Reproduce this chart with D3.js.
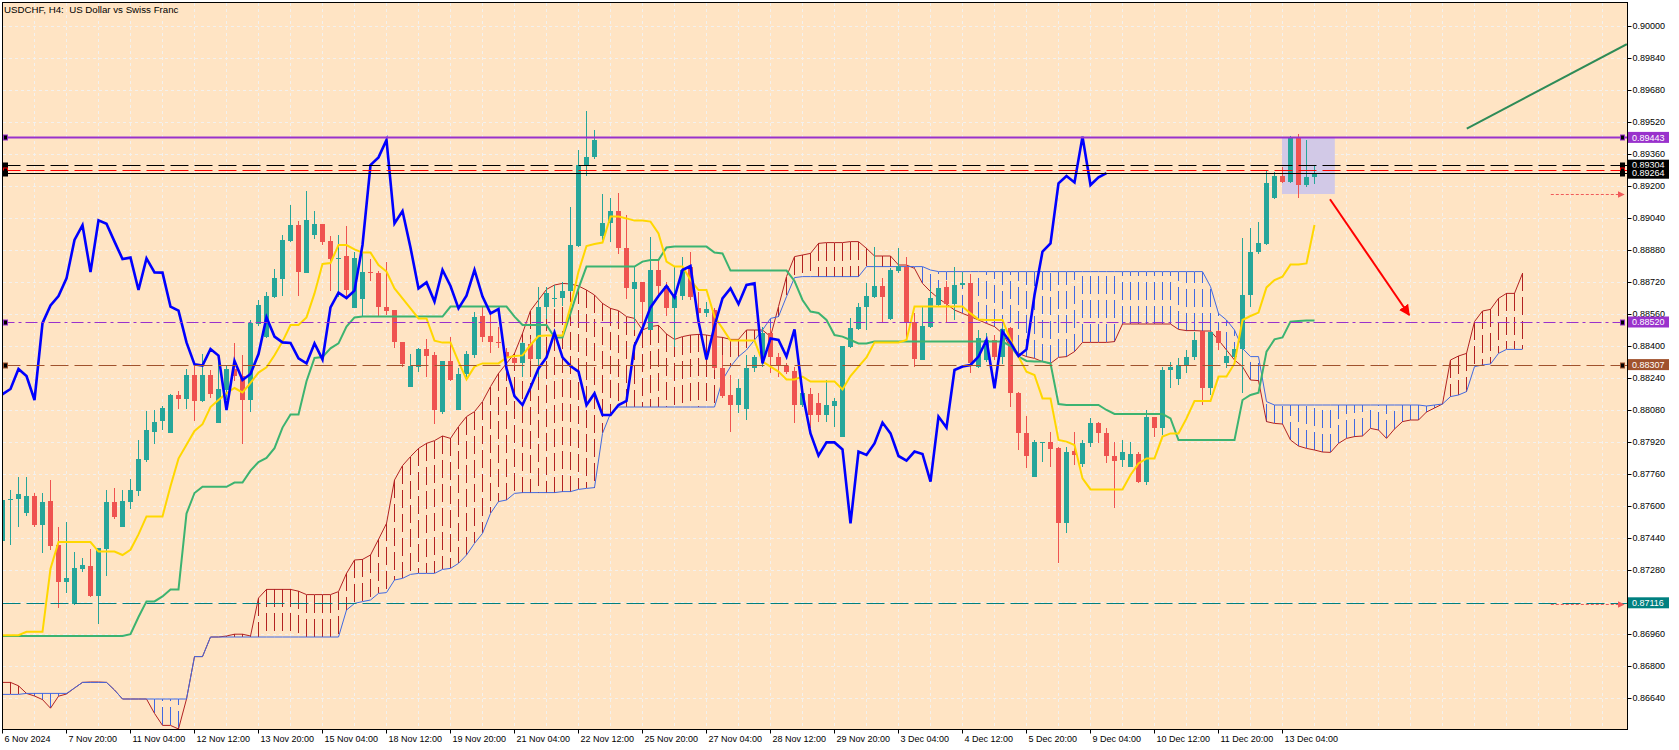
<!DOCTYPE html>
<html>
<head>
<meta charset="utf-8">
<script src="https://cdn.jsdelivr.net/npm/d3@7"></script>
<style>
html, body { margin: 0; padding: 0; background: #fff; overflow: hidden; }
svg { display: block; }
</style>
</head>
<body>
<svg id="chart" width="1679" height="750"></svg>
<script>
// USDCHF H4 - bars start 6 Nov 2024 12:00, one bar = 4 hours
const ohlc = [ // [open, high, low, close]
  [.87424,.87640,.87410,.87630],[.87630,.87682,.87407,.87636],[.87634,.87746,.87493,.87660],[.87567,.87746,.87550,.87651],
  [.87651,.87665,.87496,.87506],[.87506,.87665,.87364,.87622],[.87625,.87729,.87381,.87401],[.87407,.87493,.87091,.87222],
  [.87222,.87519,.87166,.87238],[.87109,.87372,.87105,.87290],[.87286,.87341,.87269,.87307],[.87300,.87384,.87143,.87148],
  [.87152,.87392,.87011,.87389],[.87386,.87682,.87252,.87618],[.87618,.87691,.87536,.87544],[.87496,.87682,.87496,.87625],
  [.87622,.87734,.87587,.87679],[.87677,.87932,.87648,.87834],[.87832,.88073,.87820,.87978],[.87971,.88078,.87911,.88018],
  [.88023,.88100,.87980,.88092],[.87966,.88160,.87966,.88154],[.88154,.88173,.88083,.88133],[.88137,.88285,.88087,.88255],
  [.88255,.88302,.88026,.88126],[.88126,.88362,.88118,.88255],[.88255,.88280,.88138,.88159],[.88013,.88324,.88013,.88185],
  [.88181,.88302,.88130,.88285],[.88285,.88416,.88224,.88250],[.88250,.88354,.87911,.88130],[.88130,.88531,.88069,.88514],
  [.88509,.88632,.88500,.88603],[.88445,.88672,.88440,.88650],[.88646,.88784,.88638,.88738],[.88736,.88956,.88651,.88930],
  [.88927,.89103,.88922,.89004],[.89004,.89025,.88651,.88770],[.88767,.89175,.88767,.89028],[.88953,.89073,.88934,.89011],
  [.89008,.89008,.88905,.88922],[.88925,.88948,.88676,.88835],[.88835,.88955,.88647,.88842],[.88852,.89002,.88640,.88680],
  [.88588,.88870,.88588,.88838],[.88635,.88867,.88547,.88768],[.88768,.88835,.88725,.88767],[.88767,.88775,.88547,.88597],
  [.88593,.88818,.88555,.88577],[.88580,.88580,.88388,.88418],[.88418,.88418,.88297,.88308],[.88197,.88358,.88197,.88302],
  [.88297,.88388,.88272,.88385],[.88385,.88433,.88243,.88352],[.88355,.88372,.88008,.88080],[.88072,.88325,.88058,.88325],
  [.88325,.88447,.88225,.88230],[.88080,.88292,.88080,.88260],[.88260,.88375,.88247,.88360],[.88355,.88568,.88342,.88543],
  [.88550,.88597,.88422,.88447],[.88450,.88572,.88363,.88418],[.88420,.88497,.88388,.88415],[.88368,.88392,.88297,.88338],
  [.88338,.88345,.88300,.88313],[.88313,.88422,.88247,.88413],[.88410,.88435,.88327,.88333],[.88333,.88697,.88247,.88593],
  [.88593,.88693,.88533,.88667],[.88635,.88705,.88597,.88640],[.88642,.88722,.88600,.88677],[.88677,.89097,.88672,.88905],
  [.88902,.89380,.88897,.89305],[.89305,.89575,.89252,.89343],[.89343,.89480,.89333,.89430],[.88952,.89158,.88930,.89013],
  [.89013,.89138,.88922,.89075],[.89075,.89167,.88860,.88892],[.88892,.89055,.88635,.88688],[.88685,.88797,.88480,.88718],
  [.88722,.88722,.88480,.88622],[.88480,.88947,.88480,.88780],[.88780,.88830,.88640,.88700],[.88700,.88720,.88550,.88588],
  [.88592,.88800,.88397,.88652],[.88652,.88847,.88630,.88780],[.88797,.88868,.88630,.88647],[.88588,.88672,.88530,.88563],
  [.88567,.88622,.88547,.88585],[.88580,.88588,.88280,.88288],[.88288,.88355,.88140,.88150],[.88153,.88255,.87972,.88105],
  [.88105,.88233,.88063,.88192],[.88083,.88355,.88030,.88288],[.88288,.88355,.88268,.88343],[.88343,.88497,.88297,.88467],
  [.88467,.88488,.88263,.88343],[.88347,.88363,.88247,.88300],[.88300,.88313,.88260,.88272],[.88275,.88297,.88013,.88105],
  [.88105,.88200,.88095,.88163],[.88160,.88188,.87988,.88055],[.88113,.88163,.88022,.88055],[.88055,.88230,.88022,.88105],
  [.88102,.88138,.87997,.88125],[.87947,.88402,.87943,.88402],[.88397,.88538,.88388,.88488],[.88485,.88617,.88480,.88593],
  [.88593,.88713,.88480,.88650],[.88647,.88897,.88640,.88700],[.88700,.88738,.88517,.88643],[.88533,.88790,.88530,.88780],
  [.88777,.88888,.88763,.88800],[.88797,.88847,.88427,.88522],[.88522,.88563,.88297,.88333],[.88330,.88593,.88330,.88500],
  [.88497,.88688,.88490,.88638],[.88605,.88697,.88595,.88688],[.88693,.88727,.88513,.88610],[.88610,.88797,.88530,.88705],
  [.88705,.88772,.88697,.88713],[.88713,.88760,.88263,.88313],[.88297,.88480,.88288,.88438],[.88330,.88463,.88320,.88430],
  [.88430,.88455,.88330,.88347],[.88347,.88500,.88310,.88483],[.88488,.88497,.88097,.88163],[.88163,.88172,.87880,.87963],
  [.87963,.88050,.87788,.87852],[.87747,.87930,.87745,.87918],[.87915,.87920,.87818,.87918],[.87918,.87968,.87797,.87883],
  [.87888,.87897,.87313,.87513],[.87513,.87897,.87467,.87872],[.87875,.87968,.87805,.87855],[.87808,.87930,.87797,.87913],
  [.87913,.88038,.87897,.88017],[.88017,.88022,.87913,.87963],[.87967,.87988,.87813,.87850],[.87850,.87922,.87588,.87827],
  [.87830,.87930,.87797,.87872],[.87797,.87918,.87797,.87860],[.87860,.87872,.87713,.87722],[.87722,.88080,.87705,.88047],
  [.88047,.88047,.87947,.87992],[.87988,.88297,.87955,.88280],[.88280,.88322,.88188,.88297],[.88233,.88338,.88205,.88305],
  [.88305,.88380,.88267,.88347],[.88347,.88472,.88330,.88430],[.88475,.88475,.88105,.88188],[.88188,.88472,.88155,.88472],
  [.88475,.88480,.88380,.88417],[.88313,.88380,.88288,.88350],[.88347,.88397,.88322,.88383],[.88383,.88938,.88163,.88655],
  [.88655,.88988,.88597,.88872],[.88868,.89022,.88860,.88913],[.88910,.89275,.88905,.89213],[.89138,.89272,.89133,.89250],
  [.89250,.89297,.89213,.89218],[.89218,.89450,.89213,.89447],[.89447,.89458,.89142,.89205],[.89205,.89430,.89197,.89243],
  [.89243,.89305,.89210,.89264]
];

const tenkan = [
  .86954,.86954,.86954,.86971,.86971,.86971,.87286,.87420,.87420,.87420,
  .87420,.87420,.87372,.87372,.87372,.87355,.87381,.87458,.87548,.87548,
  .87548,.87699,.87837,.87906,.87975,.88009,.88095,.88130,.88164,.88190,
  .88168,.88216,.88267,.88293,.88354,.88422,.88505,.88505,.88543,.88663,
  .88810,.88815,.88905,.88905,.88883,.88867,.88867,.88805,.88772,.88688,
  .88638,.88588,.88538,.88538,.88427,.88417,.88417,.88322,.88233,.88297,
  .88313,.88313,.88313,.88342,.88350,.88353,.88405,.88450,.88453,.88453,
  .88453,.88597,.88772,.88900,.88910,.88917,.89047,.89047,.89038,.89027,
  .89027,.89022,.88963,.88822,.88797,.88797,.88730,.88680,.88680,.88547,
  .88488,.88427,.88427,.88427,.88427,.88322,.88297,.88272,.88233,.88233,
  .88247,.88222,.88222,.88222,.88222,.88183,.88250,.88297,.88343,.88418,
  .88418,.88418,.88418,.88430,.88597,.88597,.88597,.88597,.88597,.88597,
  .88597,.88563,.88533,.88530,.88530,.88530,.88430,.88347,.88272,.88255,
  .88138,.88138,.87930,.87922,.87905,.87738,.87683,.87683,.87683,.87683,
  .87683,.87755,.87813,.87838,.87838,.87947,.87963,.87963,.88038,.88125,
  .88125,.88125,.88247,.88247,.88313,.88530,.88550,.88567,.88693,.88730,
  .88747,.88808,.88808,.88813,.89005
];

const kijun = [
  .86950,.86950,.86950,.86950,.86950,.86950,.86950,.86950,.86950,.86950,
  .86950,.86950,.86950,.86950,.86950,.86950,.86959,.87045,.87123,.87123,
  .87148,.87183,.87183,.87562,.87665,.87696,.87696,.87696,.87696,.87717,
  .87717,.87777,.87820,.87840,.87889,.87992,.88057,.88057,.88224,.88340,
  .88345,.88388,.88413,.88497,.88543,.88547,.88547,.88547,.88547,.88547,
  .88547,.88547,.88547,.88547,.88547,.88547,.88597,.88597,.88597,.88597,
  .88597,.88597,.88597,.88597,.88547,.88505,.88505,.88505,.88505,.88443,
  .88443,.88563,.88688,.88797,.88797,.88797,.88797,.88797,.88797,.88797,
  .88822,.88830,.88830,.88893,.88897,.88897,.88897,.88897,.88897,.88867,
  .88863,.88777,.88777,.88777,.88777,.88777,.88777,.88777,.88777,.88725,
  .88630,.88572,.88565,.88530,.88455,.88447,.88430,.88413,.88413,.88422,
  .88422,.88422,.88422,.88422,.88422,.88422,.88422,.88422,.88422,.88422,
  .88422,.88422,.88422,.88422,.88422,.88422,.88400,.88347,.88325,.88322,
  .88322,.88313,.88110,.88105,.88105,.88105,.88105,.88105,.88080,.88060,
  .88060,.88060,.88060,.88060,.88060,.88060,.88038,.87930,.87930,.87930,
  .87930,.87930,.87930,.87930,.87930,.88130,.88155,.88167,.88372,.88433,
  .88443,.88522,.88525,.88527,.88527
];

const spanA = [
  .86718,.86718,.86701,.86663,.86650,.86632,.86589,.86649,.86660,.86690,
  .86718,.86720,.86720,.86718,.86680,.86635,.86635,.86635,.86635,.86563,
  .86503,.86503,.86485,.86635,.86847,.86847,.86945,.86945,.86950,.86959,
  .86959,.86950,.87140,.87183,.87183,.87183,.87183,.87174,.87157,.87157,
  .87157,.87157,.87172,.87263,.87330,.87333,.87355,.87433,.87513,.87730,
  .87802,.87847,.87888,.87913,.87927,.87950,.87938,.87997,.88047,.88072,
  .88122,.88197,.88263,.88313,.88363,.88463,.88577,.88630,.88683,.88705,
  .88713,.88710,.88700,.88680,.88655,.88613,.88588,.88577,.88547,.88538,
  .88480,.88497,.88503,.88460,.88433,.88447,.88455,.88458,.88455,.88447,
  .88443,.88433,.88433,.88480,.88480,.88480,.88447,.88597,.88747,.88847,
  .88855,.88863,.88913,.88917,.88917,.88917,.88922,.88922,.88888,.88850,
  .88850,.88850,.88805,.88805,.88788,.88713,.88672,.88638,.88610,.88580,
  .88563,.88547,.88530,.88513,.88497,.88463,.88393,.88363,.88347,.88338,
  .88322,.88313,.88343,.88347,.88372,.88418,.88418,.88418,.88418,.88422,
  .88510,.88510,.88510,.88510,.88510,.88510,.88510,.88483,.88477,.88477,
  .88475,.88475,.88430,.88380,.88330,.88297,.88230,.88227,.88022,.88013,
  .88010,.87930,.87900,.87888,.87880,.87870,.87868,.87913,.87938,.87947,
  .87950,.87988,.87980,.87938,.87985,.88022,.88030,.88030,.88070,.88090,
  .88110,.88330,.88350,.88363,.88522,.88575,.88583,.88638,.88663,.88663,
  .88763
];

const spanB = [
  .86658,.86658,.86658,.86663,.86663,.86663,.86663,.86663,.86663,.86690,
  .86718,.86718,.86718,.86718,.86680,.86635,.86635,.86635,.86635,.86635,
  .86635,.86635,.86635,.86635,.86847,.86847,.86945,.86945,.86945,.86945,
  .86945,.86945,.86945,.86945,.86945,.86945,.86945,.86945,.86945,.86945,
  .86945,.86945,.86945,.87080,.87113,.87122,.87130,.87163,.87167,.87230,
  .87238,.87258,.87263,.87263,.87263,.87283,.87288,.87313,.87355,.87413,
  .87463,.87563,.87622,.87630,.87663,.87667,.87667,.87667,.87667,.87667,
  .87672,.87672,.87683,.87688,.87692,.87963,.88063,.88095,.88095,.88095,
  .88095,.88095,.88095,.88095,.88095,.88095,.88095,.88095,.88095,.88095,
  .88230,.88297,.88347,.88380,.88430,.88480,.88538,.88547,.88647,.88742,
  .88747,.88747,.88747,.88747,.88747,.88747,.88747,.88747,.88797,.88797,
  .88797,.88797,.88797,.88797,.88797,.88797,.88780,.88772,.88772,.88772,
  .88772,.88772,.88772,.88772,.88772,.88772,.88772,.88772,.88772,.88772,
  .88772,.88772,.88772,.88772,.88772,.88772,.88772,.88772,.88772,.88772,
  .88772,.88772,.88772,.88772,.88772,.88772,.88772,.88772,.88772,.88772,
  .88772,.88697,.88563,.88530,.88480,.88388,.88347,.88347,.88122,.88105,
  .88105,.88105,.88105,.88105,.88105,.88105,.88105,.88105,.88105,.88105,
  .88105,.88105,.88105,.88105,.88105,.88105,.88105,.88105,.88100,.88105,
  .88110,.88147,.88155,.88172,.88297,.88305,.88310,.88363,.88383,.88383,
  .88383
];

const chikouShift = 26;

const priceTicks = [0.90000,0.89840,0.89680,0.89520,0.89360,0.89200,0.89040,0.88880,0.88720,0.88560,0.88400,
                    0.88240,0.88080,0.87920,0.87760,0.87600,0.87440,0.87280,0.87120,0.86960,0.86800,0.86640];

const timeTickBars = [0,8,16,24,32,40,48,56,64,72,80,88,96,104,112,120,128,136,144,152,160];
const timeTickLabels = ["6 Nov 2024","7 Nov 20:00","11 Nov 04:00","12 Nov 12:00","13 Nov 20:00","15 Nov 04:00",
  "18 Nov 12:00","19 Nov 20:00","21 Nov 04:00","22 Nov 12:00","25 Nov 20:00","27 Nov 04:00","28 Nov 12:00",
  "29 Nov 20:00","3 Dec 04:00","4 Dec 12:00","5 Dec 20:00","9 Dec 04:00","10 Dec 12:00","11 Dec 20:00","13 Dec 04:00"];

// drawn objects
const levelPrices = [0.89443, 0.89304, 0.89279, 0.89264, 0.88520, 0.88307, 0.87116];
const rectBars = [160, 166.6];
const rectPrices = [0.89443, 0.89160];
const arrowBars = [166, 175.9];
const arrowPrices = [0.89134, 0.88555];
const trendBars = [183.1, 203.1];
const trendPrices = [0.89487, 0.89909];
const markBars = [193.6, 202.75];
const markPrices = [0.89159, 0.87109];

const title = "USDCHF, H4:  US Dollar vs Swiss Franc";

// ---- layout ----
const W = 1679, H = 750;
const L = 2.5, T = 2.5, R = 1627.5, B = 729.5;
const font = "'Liberation Sans', Arial, sans-serif";
const bull = "#26A69A", bear = "#EF5350";
const cloudUp = "#B22222", cloudDn = "#4169E1";

const x = d3.scaleLinear().domain([0, 200]).range([2, 1602]);   // 8 px per bar
const y = d3.scaleLinear().domain([0.9, 0.8664]).range([26, 698]);
const px = i => x(i) + 0.5;
const crisp = v => Math.round(v) + 0.5;

const svg = d3.select("#chart");
const defs = svg.append("defs");
defs.append("clipPath").attr("id", "plotClip")
  .append("rect").attr("x", 3).attr("y", 3).attr("width", R - 3.5).attr("height", B - 3.5);

function marker(id, color, size) {
  defs.append("marker").attr("id", id)
    .attr("viewBox", "0 0 10 10").attr("refX", 9).attr("refY", 5)
    .attr("markerWidth", size).attr("markerHeight", size)
    .attr("markerUnits", "userSpaceOnUse").attr("orient", "auto")
    .append("path").attr("d", "M0,0L10,5L0,10z").attr("fill", color);
}
marker("arrRed", "#FF0000", 11);
marker("arrDot", "#F05A5A", 7);

svg.append("rect").attr("width", W).attr("height", H).attr("fill", "#fff");
svg.append("rect").attr("x", L).attr("y", T).attr("width", R - L).attr("height", B - T).attr("fill", "#FFE4C4");

const g = svg.append("g").attr("clip-path", "url(#plotClip)");

// grid
const gridG = g.append("g").attr("stroke", "#f3f1ee").attr("stroke-dasharray", "3,3").attr("shape-rendering", "crispEdges");
gridG.selectAll(".gv").data(d3.range(0, 204, 4)).join("line").attr("class", "gv")
  .attr("x1", d => px(d)).attr("x2", d => px(d)).attr("y1", T).attr("y2", B);
gridG.selectAll(".gh").data(priceTicks).join("line").attr("class", "gh")
  .attr("x1", L).attr("x2", R).attr("y1", d => crisp(y(d))).attr("y2", d => crisp(y(d)));

// rectangle object (background)
g.append("rect")
  .attr("x", x(rectBars[0])).attr("width", x(rectBars[1]) - x(rectBars[0]))
  .attr("y", y(rectPrices[0])).attr("height", y(rectPrices[1]) - y(rectPrices[0]))
  .attr("fill", "#D2C9E7");

// cloud hatch
const cloud = g.append("g").attr("stroke-dasharray", "18,6").attr("shape-rendering", "crispEdges");
cloud.selectAll("line").data(spanA).join("line")
  .attr("x1", (d, i) => px(i)).attr("x2", (d, i) => px(i))
  .attr("y1", d => y(d)).attr("y2", (d, i) => y(spanB[i]))
  .attr("stroke", (d, i) => d >= spanB[i] ? cloudUp : cloudDn);

const line = d3.line().x((d, i) => px(i)).y(d => y(d));
g.append("path").attr("d", line(spanA)).attr("fill", "none").attr("stroke", cloudUp).attr("stroke-width", 1);
g.append("path").attr("d", line(spanB)).attr("fill", "none").attr("stroke", cloudDn).attr("stroke-width", 1);

// candles
const cg = g.append("g").attr("shape-rendering", "crispEdges");
const col = d => d[3] >= d[0] ? bull : bear;
cg.selectAll("line").data(ohlc).join("line")
  .attr("x1", (d, i) => px(i)).attr("x2", (d, i) => px(i))
  .attr("y1", d => y(d[1])).attr("y2", d => y(d[2]))
  .attr("stroke", col);
cg.selectAll("rect").data(ohlc).join("rect")
  .attr("x", (d, i) => x(i) - 2).attr("width", 5)
  .attr("y", d => y(Math.max(d[0], d[3])))
  .attr("height", d => Math.max(1, Math.abs(y(d[0]) - y(d[3]))))
  .attr("fill", col);

// ichimoku lines
g.append("path").attr("d", line(kijun)).attr("fill", "none").attr("stroke", "#3CB371").attr("stroke-width", 2);
g.append("path").attr("d", line(tenkan)).attr("fill", "none").attr("stroke", "#FFD700").attr("stroke-width", 2);
const chikouLine = d3.line().x((d, i) => px(i - chikouShift)).y(d => y(d[3]));
g.append("path").attr("d", chikouLine(ohlc)).attr("fill", "none").attr("stroke", "#0000FF").attr("stroke-width", 2.6)
  .attr("stroke-linejoin", "miter");

// horizontal level objects
const levelStyles = [
  { color: "#9932CC", width: 2, dash: null },
  { color: "#000000", width: 1, dash: "18,6" },
  { color: "#FF0000", width: 1, dash: "18,6" },
  { color: "#000000", width: 1, dash: null },
  { color: "#9932CC", width: 1, dash: "12,4,3,4" },
  { color: "#A0522D", width: 1, dash: "18,6" },
  { color: "#008080", width: 1, dash: "18,6" }
];
g.append("g").selectAll("line").data(levelPrices).join("line")
  .attr("x1", L).attr("x2", R)
  .attr("y1", d => crisp(y(d))).attr("y2", d => crisp(y(d)))
  .attr("stroke", (d, i) => levelStyles[i].color)
  .attr("stroke-width", (d, i) => levelStyles[i].width)
  .attr("stroke-dasharray", (d, i) => levelStyles[i].dash);

// anchor squares at both ends of the levels (not the teal one)
const anchored = levelPrices.slice(0, 6);
[[3, 8], [1620, 1625]].forEach(([a, b]) => {
  g.append("g").selectAll("rect").data(anchored).join("rect")
    .attr("x", a + 0.5).attr("width", b - a - 1)
    .attr("y", d => crisp(y(d)) - 2.5).attr("height", 5)
    .attr("fill", "#000")
    .attr("stroke", (d, i) => levelStyles[i].color)
    .attr("stroke-width", 1);
});

// trend line
g.append("line")
  .attr("x1", x(trendBars[0])).attr("y1", y(trendPrices[0]))
  .attr("x2", x(trendBars[1])).attr("y2", y(trendPrices[1]))
  .attr("stroke", "#2E8B57").attr("stroke-width", 2);

// red arrow
g.append("line")
  .attr("x1", x(arrowBars[0])).attr("y1", y(arrowPrices[0]))
  .attr("x2", x(arrowBars[1])).attr("y2", y(arrowPrices[1]))
  .attr("stroke", "#FF0000").attr("stroke-width", 2)
  .attr("marker-end", "url(#arrRed)");

// dotted price markers on the right
g.append("g").selectAll("line").data(markPrices).join("line")
  .attr("x1", x(markBars[0])).attr("x2", x(markBars[1]))
  .attr("y1", d => crisp(y(d))).attr("y2", d => crisp(y(d)))
  .attr("stroke", "#F05A5A").attr("stroke-width", 1).attr("stroke-dasharray", "3,2")
  .attr("marker-end", "url(#arrDot)");

// frame
svg.append("rect").attr("x", L).attr("y", T).attr("width", R - L).attr("height", B - T)
  .attr("fill", "none").attr("stroke", "#000").attr("stroke-width", 1);

// price axis
const yAxis = d3.axisRight(y).tickValues(priceTicks).tickFormat(d3.format(".5f")).tickSize(4).tickPadding(1);
svg.append("g").attr("transform", `translate(${R},0)`).call(yAxis)
  .attr("font-family", font).attr("font-size", 9)
  .call(a => a.select(".domain").remove())
  .call(a => a.selectAll("line").attr("stroke", "#000"))
  .call(a => a.selectAll("text").attr("fill", "#000"));

// time axis
const xAxis = d3.axisBottom(x).tickValues(timeTickBars).tickSize(4).tickPadding(2)
  .tickFormat((d, k) => timeTickLabels[k]);
svg.append("g").attr("transform", `translate(0,${B})`).call(xAxis)
  .attr("font-family", font).attr("font-size", 9)
  .call(a => a.select(".domain").remove())
  .call(a => a.selectAll("line").attr("stroke", "#000"))
  .call(a => a.selectAll("text").attr("fill", "#000").attr("text-anchor", "start").attr("x", 2));

// level badges on the price scale
const badgeIdx = [0, 1, 3, 4, 5, 6];
const badgeColors = ["#9932CC", "#000000", "#000000", "#9932CC", "#A0522D", "#008080"];
const badges = svg.append("g").selectAll("g").data(badgeIdx).join("g")
  .attr("transform", d => `translate(${R + 0.5},${y(levelPrices[d])})`);
badges.append("rect").attr("x", 0).attr("y", -5.5).attr("width", 41).attr("height", 11)
  .attr("fill", (d, k) => badgeColors[k]);
badges.append("text").attr("x", 4).attr("dy", "0.35em")
  .attr("font-family", font).attr("font-size", 9).attr("fill", "#fff")
  .text(d => d3.format(".5f")(levelPrices[d]));

// title
svg.append("text").attr("x", 4).attr("y", 13)
  .attr("font-family", font).attr("font-size", 9.7).attr("fill", "#000")
  .style("white-space", "pre")
  .text(title);
</script>
</body>
</html>
